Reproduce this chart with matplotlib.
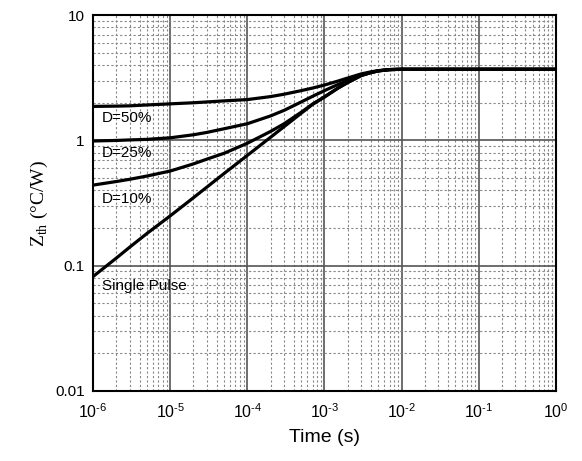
import matplotlib
matplotlib.use("Agg")
import matplotlib.pyplot as plt
from matplotlib.ticker import LogLocator, FixedLocator, FixedFormatter

plt.rcParams['font.family'] = ['Liberation Sans', 'DejaVu Sans']
plt.rcParams['mathtext.fontset'] = 'custom'
plt.rcParams['mathtext.rm'] = 'Liberation Sans'
plt.rcParams['mathtext.it'] = 'Liberation Sans:italic'

# pulse time (s)
t = [1e-6, 2e-6, 3e-6, 5e-6, 1e-5, 2e-5, 3e-5, 5e-5, 1e-4, 2e-4, 3e-4, 5e-4,
     7e-4, 1e-3, 1.5e-3, 2e-3, 3e-3, 4e-3, 5e-3, 7e-3, 1e-2, 1]

# thermal impedance (°C/W)
z_50 = [1.87, 1.88, 1.89, 1.92, 1.96, 2.00, 2.03, 2.07, 2.12, 2.24, 2.34, 2.50,
        2.62, 2.77, 2.98, 3.15, 3.40, 3.53, 3.61, 3.68, 3.70, 3.70]
z_25 = [0.99, 1.00, 1.01, 1.02, 1.05, 1.11, 1.16, 1.24, 1.36, 1.57, 1.74, 2.03,
        2.25, 2.50, 2.80, 3.01, 3.33, 3.50, 3.60, 3.68, 3.70, 3.70]
z_10 = [0.44, 0.47, 0.49, 0.52, 0.57, 0.65, 0.71, 0.79, 0.95, 1.18, 1.36, 1.68,
        1.95, 2.23, 2.62, 2.90, 3.30, 3.48, 3.59, 3.68, 3.70, 3.70]
z_single = [0.082, 0.115, 0.141, 0.181, 0.25, 0.349, 0.425, 0.545, 0.76, 1.06, 1.29, 1.65,
            1.94, 2.22, 2.62, 2.90, 3.30, 3.48, 3.59, 3.68, 3.70, 3.70]

labels = ["D=50%", "D=25%", "D=10%", "Single Pulse"]
label_y = [1.52, 0.80, 0.34, 0.069]

xticks = [1e-6, 1e-5, 1e-4, 1e-3, 1e-2, 1e-1, 1]
xtick_labels = ["$\\mathregular{10^{\u2010%d}}$" % (-e) if e < 0 else "$\\mathregular{10^{0}}$"
                for e in range(-6, 1)]
yticks = [0.01, 0.1, 1, 10]
ytick_labels = ["0.01", "0.1", "1", "10"]

fig = plt.figure(figsize=(5.82, 4.61), dpi=100)
ax = fig.add_axes([0.16, 0.152, 0.795, 0.815])

for z in (z_50, z_25, z_10, z_single):
    ax.plot(t, z, color='black', lw=2.3, solid_joinstyle='round')

ax.set_xscale('log')
ax.set_yscale('log')
ax.set_xlim(1e-6, 1)
ax.set_ylim(0.01, 10)

ax.xaxis.set_major_locator(FixedLocator(xticks))
ax.xaxis.set_major_formatter(FixedFormatter(xtick_labels))
ax.yaxis.set_major_locator(FixedLocator(yticks))
ax.yaxis.set_major_formatter(FixedFormatter(ytick_labels))
ax.xaxis.set_minor_locator(LogLocator(base=10, subs=range(2, 10), numticks=20))
ax.yaxis.set_minor_locator(LogLocator(base=10, subs=range(2, 10), numticks=20))
ax.tick_params(which='both', length=0)
ax.tick_params(axis='x', labelsize=11.5, pad=8)
ax.tick_params(axis='y', labelsize=11, pad=6)

ax.grid(which='major', color='#555555', lw=1.2, ls='-')
ax.grid(which='minor', color='#888888', lw=0.8, ls=(0, (2, 2)))
ax.set_axisbelow(True)
for s in ax.spines.values():
    s.set_linewidth(1.5)
    s.set_color('black')

for lab, y in zip(labels, label_y):
    ax.text(1.3e-6, y, lab, fontsize=11, va='center', ha='left')

ax.set_xlabel("Time (s)", fontsize=14, labelpad=6)
ax.set_ylabel(r"Z$_{\mathregular{th}}$ (°C/W)", fontsize=14, family='Liberation Serif', labelpad=4)

fig.savefig("out.png", dpi=100)
